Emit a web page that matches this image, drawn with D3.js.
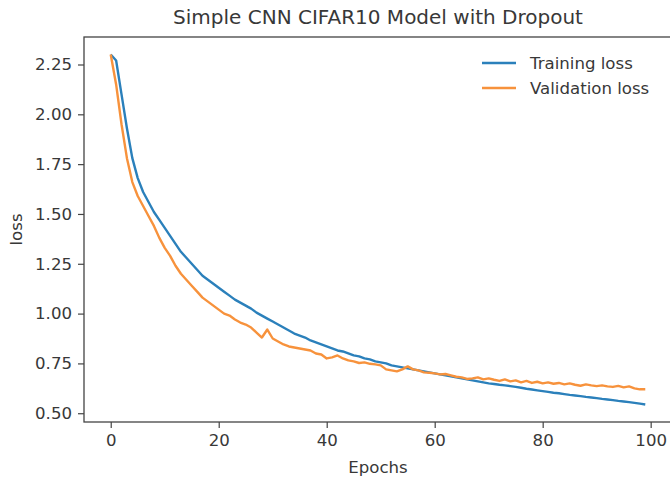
<!DOCTYPE html>
<html>
<head>
    <meta charset="utf-8"/>
    <style>
        body {
            margin: 0;
            background: #fff;
            overflow: hidden;
        }

        svg text {
            font-family: "DejaVu Sans", sans-serif;
            fill: #383838;
        }

        .axis line {
            stroke: #444;
            stroke-width: 1.2;
        }
    </style>
</head>

<body>
<div id="chart"></div>
<script src="https://cdn.jsdelivr.net/npm/d3@7/dist/d3.min.js"></script>
<script type="text/javascript">

    // values, one per epoch (0..99)
    var trainLoss = [
        2.30, 2.27, 2.10, 1.93, 1.78, 1.68, 1.61, 1.56, 1.51, 1.47,
        1.43, 1.39, 1.35, 1.31, 1.28, 1.25, 1.22, 1.19, 1.17, 1.15,
        1.13, 1.11, 1.09, 1.07, 1.055, 1.04, 1.025, 1.005, 0.99, 0.975,
        0.96, 0.945, 0.93, 0.915, 0.90, 0.89, 0.88, 0.865, 0.855, 0.845,
        0.835, 0.825, 0.815, 0.81, 0.80, 0.79, 0.785, 0.775, 0.77, 0.76,
        0.755, 0.75, 0.74, 0.735, 0.73, 0.725, 0.72, 0.715, 0.71, 0.705,
        0.70, 0.695, 0.69, 0.685, 0.68, 0.675, 0.67, 0.665, 0.66, 0.655,
        0.65, 0.647, 0.643, 0.64, 0.636, 0.632, 0.628, 0.623, 0.619, 0.615,
        0.611, 0.607, 0.603, 0.60, 0.596, 0.592, 0.589, 0.586, 0.582, 0.579,
        0.576, 0.572, 0.569, 0.566, 0.562, 0.559, 0.556, 0.552, 0.548, 0.544
    ];

    var valLoss = [
        2.30, 2.15, 1.95, 1.78, 1.66, 1.59, 1.54, 1.49, 1.44, 1.38,
        1.33, 1.29, 1.24, 1.20, 1.17, 1.14, 1.11, 1.08, 1.06, 1.04,
        1.02, 1.00, 0.99, 0.97, 0.955, 0.945, 0.93, 0.905, 0.88, 0.92,
        0.875, 0.86, 0.845, 0.835, 0.83, 0.825, 0.82, 0.815, 0.80, 0.795,
        0.775, 0.78, 0.79, 0.775, 0.765, 0.76, 0.752, 0.755, 0.748, 0.745,
        0.74, 0.72, 0.715, 0.71, 0.72, 0.735, 0.72, 0.715, 0.705, 0.703,
        0.70, 0.695, 0.697, 0.69, 0.683, 0.68, 0.672, 0.675, 0.68, 0.67,
        0.675, 0.668, 0.662, 0.67, 0.66, 0.665, 0.655, 0.662, 0.652, 0.658,
        0.65, 0.655, 0.648, 0.652, 0.645, 0.65, 0.643, 0.638, 0.645, 0.64,
        0.636, 0.64, 0.635, 0.632, 0.637, 0.63, 0.635, 0.625, 0.62, 0.62
    ];

    var xTicks = [0, 20, 40, 60, 80, 100];
    var yTicks = [0.50, 0.75, 1.00, 1.25, 1.50, 1.75, 2.00, 2.25];
    var seriesNames = ["Training loss", "Validation loss"];
    var seriesColors = ["#2b80bb", "#f7923c"];

    var w = 670;
    var h = 479;
    // the right spine sits just past the picture's edge
    var plotLeft = 84, plotRight = 672, plotTop = 37, plotBottom = 422;
    var fontSize = 16.6;

    var xScale = d3.scaleLinear()
        .domain([-4.95, 103.95])
        .range([plotLeft, plotRight]);

    var yScale = d3.scaleLinear()
        .domain([0.456, 2.388])
        .range([plotBottom, plotTop]);

    var svg = d3.select("#chart")
        .append("svg")
        .attr("width", w)
        .attr("height", h);

    // frame
    svg.append("rect")
        .attr("x", plotLeft)
        .attr("y", plotTop)
        .attr("width", plotRight - plotLeft)
        .attr("height", plotBottom - plotTop)
        .attr("fill", "none")
        .attr("stroke", "#444")
        .attr("stroke-width", 1.3);

    var xAxis = d3.axisBottom(xScale)
        .tickValues(xTicks)
        .tickSize(6)
        .tickPadding(6)
        .tickFormat(d3.format("d"));

    var yAxis = d3.axisLeft(yScale)
        .tickValues(yTicks)
        .tickSize(6)
        .tickPadding(6)
        .tickFormat(d3.format(".2f"));

    svg.append("g")
        .attr("class", "axis")
        .attr("transform", "translate(0," + plotBottom + ")")
        .call(xAxis)
        .call(function (g) { g.select(".domain").remove(); })
        .selectAll("text")
        .attr("fill", "#383838")
        .style("font-size", fontSize + "px");

    svg.append("g")
        .attr("class", "axis")
        .attr("transform", "translate(" + plotLeft + ",0)")
        .call(yAxis)
        .call(function (g) { g.select(".domain").remove(); })
        .selectAll("text")
        .attr("fill", "#383838")
        .style("font-size", fontSize + "px");

    var line = d3.line()
        .x(function (d, i) { return xScale(i); })
        .y(function (d) { return yScale(d); });

    [trainLoss, valLoss].forEach(function (s, i) {
        svg.append("path")
            .datum(s)
            .attr("d", line)
            .attr("fill", "none")
            .attr("stroke", seriesColors[i])
            .attr("stroke-width", 2.4)
            .attr("stroke-linejoin", "round");
    });

    // title and labels
    svg.append("text")
        .attr("x", (plotLeft + plotRight) / 2)
        .attr("y", 24)
        .attr("text-anchor", "middle")
        .style("font-size", "20px")
        .text("Simple CNN CIFAR10 Model with Dropout");

    svg.append("text")
        .attr("x", (plotLeft + plotRight) / 2)
        .attr("y", 473)
        .attr("text-anchor", "middle")
        .style("font-size", fontSize + "px")
        .text("Epochs");

    svg.append("text")
        .attr("transform", "translate(22," + ((plotTop + plotBottom) / 2) + ") rotate(-90)")
        .attr("text-anchor", "middle")
        .style("font-size", fontSize + "px")
        .text("loss");

    // legend, upper right
    var legend = svg.append("g")
        .attr("transform", "translate(482,63)");

    seriesNames.forEach(function (name, i) {
        legend.append("line")
            .attr("x1", 0)
            .attr("x2", 34)
            .attr("y1", i * 25)
            .attr("y2", i * 25)
            .attr("stroke", seriesColors[i])
            .attr("stroke-width", 2.4);
        legend.append("text")
            .attr("x", 48)
            .attr("y", i * 25 + 6)
            .style("font-size", fontSize + "px")
            .text(name);
    });

</script>
</body>
</html>
